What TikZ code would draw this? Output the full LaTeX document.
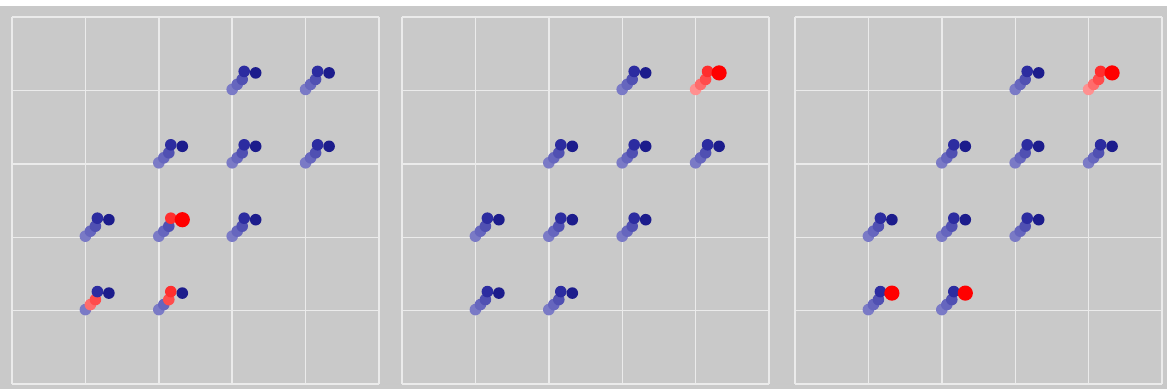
\documentclass[tikz,border=0pt]{standalone}
\usepackage{xcolor}
\usepackage{tikz}
\definecolor{bgc}{HTML}{C9C9C9}
\definecolor{gridc}{HTML}{EBEBEB}
\definecolor{bnavy}{HTML}{1C1C8C}
\definecolor{bdark}{HTML}{2C2CA0}
\definecolor{bmid}{HTML}{5050B2}
\definecolor{blite}{HTML}{6666BE}
\definecolor{bpale}{HTML}{7A7AC6}
\definecolor{rbig}{HTML}{FF0000}
\definecolor{rhead}{HTML}{FF2E2E}
\definecolor{rmid}{HTML}{FF4C4C}
\definecolor{rlite}{HTML}{FF6C6C}
\definecolor{rpale}{HTML}{FF9090}
\tikzset{
  grd/.style={gridc,line width=1pt},
  dt/.style={radius=0.145cm},
  bn/.style={dt,fill=bnavy},
  bd/.style={dt,fill=bdark},
  bm/.style={dt,fill=bmid},
  bl/.style={dt,fill=blite},
  bp/.style={dt,fill=bpale},
  rh/.style={dt,fill=rhead},
  rm/.style={dt,fill=rmid},
  rl/.style={dt,fill=rlite},
  rp/.style={dt,fill=rpale},
  rb/.style={radius=0.19cm,fill=rbig}
}
\begin{document}
\begin{tikzpicture}[x=0.025cm,y=-0.025cm]
\useasboundingbox (0,0) rectangle (1167,389);
\fill[bgc] (0,6) rectangle (1167,389);
% three panels with a 5x5 grid each
\foreach \ox in {12,402,795}{
 \foreach \k in {0,...,5}{
  \draw[grd] ({\ox+73.4*\k},17) -- ({\ox+73.4*\k},384);
  \draw[grd] (\ox,{17+73.4*\k}) -- ({\ox+367},{17+73.4*\k});}}
% agents: panel/column/row/head/right/trail1/trail2/trail3
\foreach \ox/\i/\j/\a/\b/\c/\d/\e in {
 12/3/1/bd/bn/bm/bl/bp, 12/4/1/bd/bn/bm/bl/bp,
 12/2/2/bd/bn/bm/bl/bp, 12/3/2/bd/bn/bm/bl/bp, 12/4/2/bd/bn/bm/bl/bp,
 12/1/3/bd/bn/bm/bl/bp, 12/2/3/rh/rb/bm/bl/bp, 12/3/3/bd/bn/bm/bl/bp,
 12/1/4/bd/bn/rm/rl/bp, 12/2/4/rh/bn/rm/bl/bp,
 402/3/1/bd/bn/bm/bl/bp, 402/4/1/rh/rb/rm/rl/rp,
 402/2/2/bd/bn/bm/bl/bp, 402/3/2/bd/bn/bm/bl/bp, 402/4/2/bd/bn/bm/bl/bp,
 402/1/3/bd/bn/bm/bl/bp, 402/2/3/bd/bn/bm/bl/bp, 402/3/3/bd/bn/bm/bl/bp,
 402/1/4/bd/bn/bm/bl/bp, 402/2/4/bd/bn/bm/bl/bp,
 795/3/1/bd/bn/bm/bl/bp, 795/4/1/rh/rb/rm/rl/rp,
 795/2/2/bd/bn/bm/bl/bp, 795/3/2/bd/bn/bm/bl/bp, 795/4/2/bd/bn/bm/bl/bp,
 795/1/3/bd/bn/bm/bl/bp, 795/2/3/bd/bn/bm/bl/bp, 795/3/3/bd/bn/bm/bl/bp,
 795/1/4/bd/rb/bm/bl/bp, 795/2/4/bd/rb/bm/bl/bp}{
 \fill[\e] ({\ox+73.4*\i},{17+73.4*\j-1}) circle;
 \fill[\d] ({\ox+73.4*\i+5},{17+73.4*\j-6}) circle;
 \fill[\c] ({\ox+73.4*\i+10},{17+73.4*\j-11}) circle;
 \fill[\a] ({\ox+73.4*\i+12},{17+73.4*\j-19}) circle;
 \fill[\b] ({\ox+73.4*\i+23.5},{17+73.4*\j-17.5}) circle;}
\end{tikzpicture}
\end{document}
